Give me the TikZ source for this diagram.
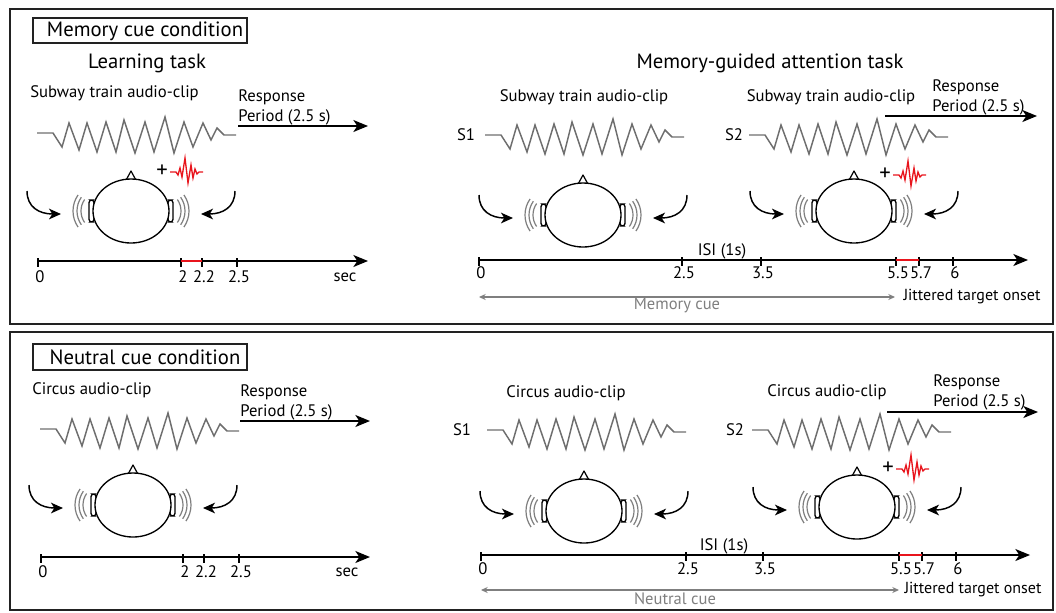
\documentclass[tikz,border=0pt]{standalone}
\usepackage{fontspec}
\setmainfont{PT Sans}
\usetikzlibrary{arrows.meta}

\definecolor{wavegray}{HTML}{6E6E6E}
\definecolor{cuegray}{HTML}{7F7F7F}
\definecolor{stimred}{HTML}{E8141C}
\definecolor{framec}{HTML}{222222}

\tikzset{
  panel/.style={draw=framec, line width=1.5pt},
  tagbox/.style={draw=framec, line width=0.9pt},
  wave/.style={draw=wavegray, line width=1.1pt, line join=miter},
  axis/.style={line width=1.1pt, -{Stealth[length=11pt,width=9pt,inset=3pt]}},
  tickmark/.style={line width=0.9pt},
  cuearrow/.style={draw=cuegray, line width=0.9pt,
    {Stealth[length=5pt,width=4.5pt]}-{Stealth[length=5pt,width=4.5pt]}},
  earcurve/.style={line width=1.1pt, -{Stealth[length=9pt,width=8pt,inset=2.5pt]}},
  bigtxt/.style={font=\fontsize{15.5}{18}\selectfont, inner sep=0pt},
  midtxt/.style={font=\fontsize{12.5}{14}\selectfont, inner sep=0pt},
  smalltxt/.style={font=\fontsize{12.5}{14}\selectfont, inner sep=0pt},
  plustxt/.style={font=\fontsize{17}{18}\selectfont, inner sep=0pt},
  graytxt/.style={font=\fontsize{12.4}{14}\selectfont, inner sep=0pt, text=cuegray},
}

% audio clip waveform, starting point given
\newcommand\clipwave[2]{%
  \begin{scope}[shift={(#1,#2)}]
    \draw[wave] (0,0) -- (16,0) -- (25,14) -- (32,-10) -- (42,17) -- (50,-10)
      -- (60,19) -- (69,-11) -- (79,19) -- (87,-13) -- (98,20) -- (108,-11)
      -- (117,19) -- (128,-16) -- (137,20) -- (147,-11) -- (156,14) -- (166,-10)
      -- (174,7) -- (180,-5) -- (187,2) -- (199,2);
  \end{scope}}

% head seen from above, with ears, nose, sound waves and incoming arrows
\newcommand\headfig[2]{%
  \begin{scope}[shift={(#1,#2)}]
    \draw[line width=0.9pt, line join=round] (-6,-29) -- (0,-40) -- (6,-29);
    \draw[line width=1pt, fill=white, rounded corners=2pt] (-42,-11) rectangle (-37,11);
    \draw[line width=1pt, fill=white, rounded corners=2pt] (37,-11) rectangle (42,11);
    \draw[line width=1pt, fill=white] (0,0) ellipse [x radius=38, y radius=32];
    \foreach \r in {20,24,28} {
      \draw[cuegray, line width=0.9pt] (-30,0) ++(145:\r) arc[start angle=145, end angle=215, radius=\r];
      \draw[cuegray, line width=0.9pt] (30,0) ++(-35:\r) arc[start angle=-35, end angle=35, radius=\r];
    }
    \draw[earcurve] (-104,-20) .. controls (-104,-4) and (-92,3) .. (-70,3);
    \draw[earcurve] (104,-20) .. controls (104,-4) and (92,3) .. (70,3);
  \end{scope}}

% target tone: plus sign and short red burst
\newcommand\targetburst[2]{%
  \begin{scope}[shift={(#1,#2)}]
    \node[plustxt] at (31,-39) {+};
    \draw[stimred, line width=1pt, line join=miter] (39,-38) -- ++(6,0) -- ++(2,3) -- ++(2,-7)
      -- ++(2,9) -- ++(3,-19) -- ++(3,25) -- ++(3,-18) -- ++(2,13) -- ++(2,-9) -- ++(2,5)
      -- ++(2,-2) -- ++(4,0);
  \end{scope}}

\begin{document}
\begin{tikzpicture}[x=0.75pt,y=-0.75pt]
\useasboundingbox (0,0) rectangle (1056,612);

% ---------------- memory cue condition ----------------
\draw[panel] (10,9) rectangle (1053,324);
\draw[tagbox] (33,18) rectangle (247,43);
\node[bigtxt] (memtag) at (145,31) {Memory cue condition};

% learning task
\node[bigtxt] (learn1) at (147,63) {Learning task};
\node[midtxt, anchor=west] (clipA) at (30,93) {Subway train audio-clip};
\node[midtxt, anchor=west] (respA1) at (238,97) {Response};
\node[midtxt, anchor=west] (respA2) at (238,117) {Period (2.5 s)};
\coordinate (rsA) at (238,126);
\coordinate (reA) at (368,126);
\draw[axis] (rsA) -- (reA);
\clipwave{37}{133}
\headfig{131}{211}
\targetburst{131}{210}
\coordinate (axA0) at (38,261);
\coordinate (axA1) at (368,261);
\draw[axis] (axA0) -- (axA1);
\foreach \x/\t in {38/0,181/2,202/2.2,237/2.5} {
  \draw[tickmark] (\x,258) -- (\x,267);
  \node[smalltxt] at (\x+2,277) {\t};
}
\draw[stimred, line width=1.4pt] (181,261) -- (202,261);
\node[smalltxt] (secA) at (345,277) {sec};

% memory-guided attention task
\node[bigtxt] (mgat) at (770,63) {Memory-guided attention task};
\node[midtxt] (clipB) at (584,97) {Subway train audio-clip};
\node[midtxt] (s1B) at (466,135) {S1};
\clipwave{485}{135}
\headfig{583}{215}
\node[midtxt] (clipC) at (831,97) {Subway train audio-clip};
\node[midtxt] (s2C) at (734,135) {S2};
\clipwave{749}{135}
\headfig{854}{211}
\targetburst{854}{213}
\node[midtxt, anchor=west] (respC1) at (932,87) {Response};
\node[midtxt, anchor=west] (respC2) at (932,107) {Period (2.5 s)};
\coordinate (rsC) at (885,116);
\coordinate (reC) at (1037,116);
\draw[axis] (rsC) -- (reC);

\coordinate (axB0) at (479,260);
\coordinate (axB1) at (1028,260);
\draw[axis] (axB0) -- (axB1);
\foreach \x/\t in {479/0,682/2.5,761/3.5,896/5.5,919/5.7,953/6} {
  \draw[tickmark] (\x,257) -- (\x,266);
  \node[smalltxt] at (\x+2,273) {\t};
}
\draw[stimred, line width=1.4pt] (896,260) -- (919,260);
\node[smalltxt] (isiB) at (722,251) {ISI (1s)};
\coordinate (cueB0) at (479,297);
\coordinate (cueB1) at (895,297);
\draw[cuearrow] (cueB0) -- (cueB1);
\node[graytxt] (memcue) at (677,305) {Memory cue};
\node[font=\fontsize{12}{14}\selectfont, inner sep=0pt] (jitB) at (972,297) {Jittered target onset};

% ---------------- neutral cue condition ----------------
\draw[panel] (10,332) rectangle (1053,610);
\draw[tagbox] (33,344) rectangle (247,370);
\node[bigtxt] (neutag) at (145,357) {Neutral cue condition};

% learning task
\node[midtxt, anchor=west] (clipD) at (32,390) {Circus audio-clip};
\node[midtxt, anchor=west] (respD1) at (240,392) {Response};
\node[midtxt, anchor=west] (respD2) at (240,412) {Period (2.5 s)};
\coordinate (rsD) at (240,421);
\coordinate (reD) at (370,421);
\draw[axis] (rsD) -- (reD);
\clipwave{40}{429}
\headfig{133}{505}
\coordinate (axD0) at (41,557);
\coordinate (axD1) at (370,557);
\draw[axis] (axD0) -- (axD1);
\foreach \x/\t in {41/0,183/2,204/2.2,239/2.5} {
  \draw[tickmark] (\x,554) -- (\x,563);
  \node[smalltxt] at (\x+2,572) {\t};
}
\node[smalltxt] (secD) at (347,572) {sec};

% attention task
\node[midtxt] (clipE) at (566,393) {Circus audio-clip};
\node[midtxt] (s1E) at (462,430) {S1};
\clipwave{487}{430}
\headfig{584}{511}
\node[midtxt] (clipF) at (827,392) {Circus audio-clip};
\node[midtxt] (s2F) at (735,430) {S2};
\clipwave{752}{430}
\headfig{857}{507}
\targetburst{857}{507}
\node[midtxt, anchor=west] (respF1) at (933,382) {Response};
\node[midtxt, anchor=west] (respF2) at (933,402) {Period (2.5 s)};
\coordinate (rsF) at (887,412);
\coordinate (reF) at (1038,412);
\draw[axis] (rsF) -- (reF);

\coordinate (axE0) at (481,555);
\coordinate (axE1) at (1030,555);
\draw[axis] (axE0) -- (axE1);
\foreach \x/\t in {481/0,686/2.5,763/3.5,899/5.5,922/5.7,956/6} {
  \draw[tickmark] (\x,552) -- (\x,561);
  \node[smalltxt] at (\x+2,569) {\t};
}
\draw[stimred, line width=1.4pt] (899,555) -- (922,555);
\node[smalltxt] (isiE) at (724,546) {ISI (1s)};
\coordinate (cueE0) at (481,590);
\coordinate (cueE1) at (899,590);
\draw[cuearrow] (cueE0) -- (cueE1);
\node[graytxt] (neucue) at (675,599) {Neutral cue};
\node[font=\fontsize{12}{14}\selectfont, inner sep=0pt] (jitE) at (973,590) {Jittered target onset};
\end{tikzpicture}
\end{document}
